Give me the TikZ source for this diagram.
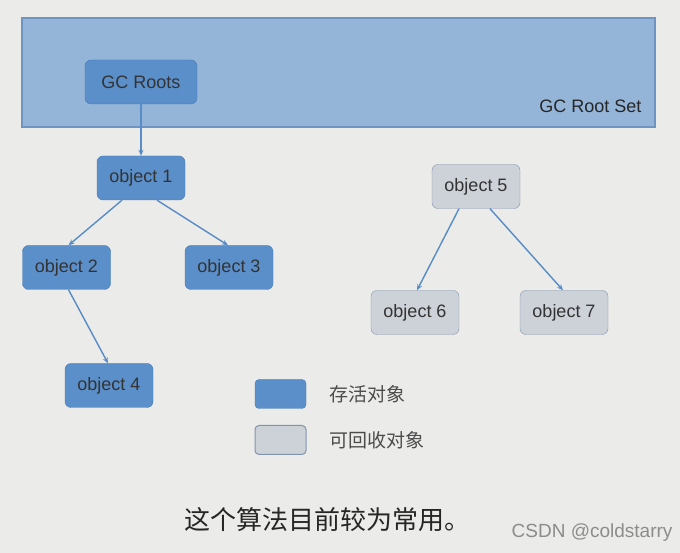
\documentclass[tikz,border=0pt]{standalone}
\usepackage{fontspec}
\setmainfont{Liberation Sans}
\newfontfamily\cjk{Noto Sans CJK SC}
\usetikzlibrary{arrows.meta,positioning}
\definecolor{bgcolor}{RGB}{235,235,233}
\definecolor{setcolor}{RGB}{149,181,216}
\definecolor{setborder}{RGB}{110,148,196}
\definecolor{livecolor}{RGB}{91,143,201}
\definecolor{liveborder}{RGB}{70,122,182}
\definecolor{deadcolor}{RGB}{205,209,216}
\definecolor{deadborder}{RGB}{130,148,172}
\definecolor{arrowcolor}{RGB}{88,140,198}

\begin{document}
\begin{tikzpicture}[x=1pt,y=1pt,
  live/.style={rectangle,rounded corners=6pt,draw=liveborder,fill=livecolor,
               minimum width=88pt,minimum height=44pt,font=\fontsize{18}{20}\selectfont,
               text=black!80,inner sep=2pt},
  dead/.style={live,draw=deadborder,fill=deadcolor},
  ref/.style={arrowcolor,line width=1.4pt,-{Stealth[length=6pt,width=5pt]}},
  keybox/.style={rectangle,rounded corners=4pt,minimum width=51pt,minimum height=29pt},
  keytxt/.style={anchor=west,font=\cjk\fontsize{19}{21}\selectfont,text=black!70}
]
\useasboundingbox (0,0) rectangle (680,553);
\fill[bgcolor] (0,0) rectangle (680,553);
% root set
\draw[setborder,fill=setcolor,line width=1.4pt] (22,426) rectangle (655,535);
\node[anchor=east,font=\fontsize{18}{20}\selectfont,text=black!85] (rootset) at (645,447) {GC Root Set};
\node[live,minimum width=112pt] (roots) at (141,471) {GC Roots};
% reachable objects
\node[live] (o1) at (141,375)   {object 1};
\node[live] (o2) at (66.5,285.5) {object 2};
\node[live] (o3) at (229,285.5) {object 3};
\node[live] (o4) at (109,167.5) {object 4};
% unreachable objects
\node[dead] (o5) at (476,366.5) {object 5};
\node[dead] (o6) at (415,240.5) {object 6};
\node[dead] (o7) at (564,240.5) {object 7};
\draw[ref] (roots) -- (o1);
\draw[ref] ([xshift=-19pt]o1.south) -- ([xshift=2pt]o2.north);
\draw[ref] ([xshift=16pt]o1.south) -- ([xshift=-1pt]o3.north);
\draw[ref] ([xshift=2pt]o2.south) -- ([xshift=-1pt]o4.north);
\draw[ref] ([xshift=-17pt]o5.south) -- ([xshift=2pt]o6.north);
\draw[ref] ([xshift=14pt]o5.south) -- ([xshift=-1pt]o7.north);
% legend
\node[keybox,draw=liveborder,fill=livecolor] (keylive) at (280.5,159) {};
\node[keybox,draw=deadborder,fill=deadcolor,line width=1pt] (keydead) at (280.5,113) {};
\node[keytxt] (txtlive) at (326,159) {存活对象};
\node[keytxt] (txtdead) at (326,113) {可回收对象};
% caption
\node[font=\cjk\fontsize{26}{30}\selectfont,text=black!85] (caption) at (327,33) {这个算法目前较为常用。};
\node[anchor=east,font=\fontsize{19}{21}\selectfont,text=black!45] (mark) at (676,20) {CSDN @coldstarry};
\end{tikzpicture}
\end{document}
